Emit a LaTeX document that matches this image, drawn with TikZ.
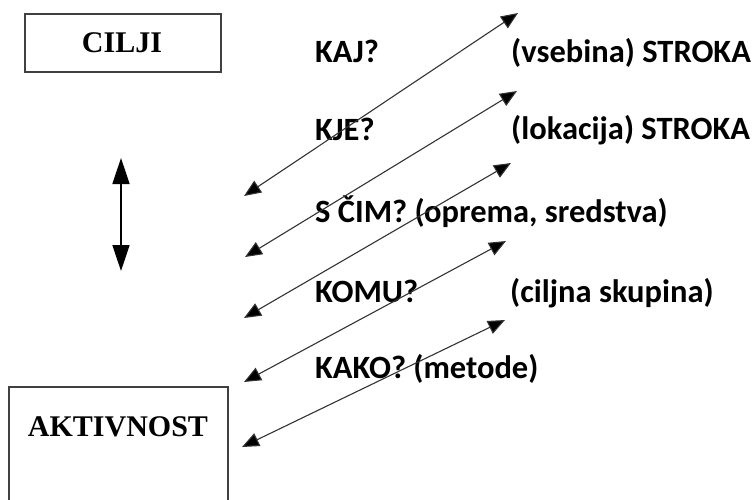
\documentclass[tikz,border=0pt]{standalone}
\usepackage{fontspec}
\newfontfamily\calibfont{Carlito}
\newfontfamily\cambfont{Liberation Serif}
\usetikzlibrary{arrows.meta}
\tikzset{
  lbl/.style={anchor=base west, inner sep=0pt, font=\calibfont\bfseries\fontsize{32.5}{38}\selectfont},
  boxlbl/.style={inner sep=0pt, font=\cambfont\bfseries\fontsize{30}{35}\selectfont},
  boxline/.style={draw=black!75, line width=1.5pt},
  darrow/.style={draw=black!80, line width=1.1pt, {Triangle[length=17pt,width=14pt,fill=black]}-{Triangle[length=17pt,width=14pt,fill=black]}},
  varrow/.style={draw=black, line width=1.6pt, {Triangle[length=26pt,width=17pt]}-{Triangle[length=26pt,width=17pt]}}
}
\begin{document}
\begin{tikzpicture}[x=1pt,y=-1pt]
\useasboundingbox (0,0) rectangle (754,499);
\clip (0,0) rectangle (754,499);
% boxes
\draw[boxline] (25,14) rectangle (221,72);
\node[boxlbl] (cilji) at (122,43) {CILJI};
\draw[boxline] (9,510) -- (9,387) -- (228,387) -- (228,510);
\node[boxlbl] (aktivnost) at (118,427) {AKTIVNOST};
% vertical arrow
\coordinate (vt) at (121,158);
\coordinate (vb) at (121,271);
\draw[varrow] (vt) -- (vb);
% diagonal arrows
\coordinate (l1) at (244,196); \coordinate (u1) at (518,13);
\coordinate (l2) at (245,257); \coordinate (u2) at (517,91);
\coordinate (l3) at (244,318); \coordinate (u3) at (511,163);
\coordinate (l4) at (244,382); \coordinate (u4) at (506,241);
\coordinate (l5) at (242,447); \coordinate (u5) at (505,320);
% labels
\node[lbl] (kaj) at (315,62) {KAJ?};
\node[lbl] (vseb) at (511,62) {(vsebina) STROKA};
\node[lbl] (kje) at (315,140) {KJE?};
\node[lbl] (lok) at (511,139) {(lokacija) STROKA};
\node[lbl] (scim) at (315,222) {S ČIM? (oprema, sredstva)};
\node[lbl] (komu) at (315,302) {KOMU?};
\node[lbl] (cilj) at (510,302) {(ciljna skupina)};
\node[lbl] (kako) at (315,378) {KAKO? (metode)};
\foreach \i in {1,...,5} {\draw[darrow] (l\i) -- (u\i);}
\end{tikzpicture}
\end{document}
